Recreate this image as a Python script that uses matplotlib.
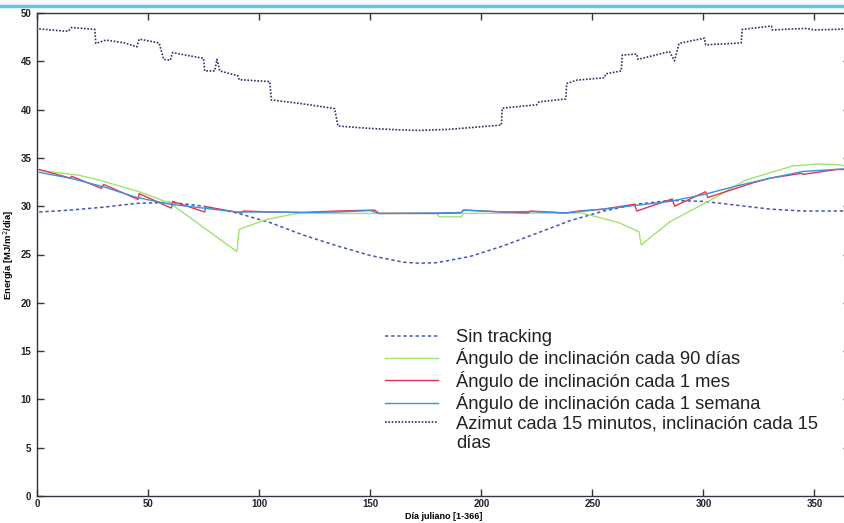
import numpy as np
import matplotlib.pyplot as plt
from matplotlib.lines import Line2D

plt.rcParams['font.family'] = ['Liberation Sans', 'DejaVu Sans']

# Azimut cada 15 minutos, inclinación cada 15 días (step curve)
az_dias = [1, 14, 15.5, 26, 26.5, 31, 39.5, 42, 45, 46, 55, 57, 60, 61, 75, 75.5, 80, 81,
           82.3, 90.5, 91, 104.8, 105.5, 118, 134, 135.5, 150, 163, 172, 185, 196, 209, 209.5,
           225, 226, 238, 238.5, 243, 255.5, 256, 263, 263.5, 270, 270.5, 284.7, 287, 289,
           300.5, 301, 317, 317.5, 330.6, 331, 346, 350, 366]
az_val = [48.35, 48.1, 48.5, 48.3, 46.85, 47.2, 46.9, 46.7, 46.5, 47.3, 46.9, 45.2, 45.1, 45.9,
          45.3, 44.0, 44.0, 45.2, 44.0, 43.5, 43.1, 42.9, 41.0, 40.65, 40.1, 38.3, 38.05, 37.9,
          37.85, 37.95, 38.15, 38.4, 40.15, 40.5, 40.8, 41.1, 42.7, 43.05, 43.3, 43.7, 44.0,
          45.65, 45.75, 45.2, 46.0, 45.05, 46.85, 47.4, 46.7, 46.9, 48.3, 48.65, 48.25, 48.4,
          48.25, 48.35]

# Sin tracking
sin_dias = [1, 15, 30, 45, 60, 75, 90, 105, 120, 135, 150, 165, 172, 180, 195, 210, 225, 240,
            255, 270, 285, 300, 315, 330, 345, 366]
sin_val = [29.4, 29.6, 29.9, 30.3, 30.4, 30.0, 29.3, 28.3, 27.0, 25.9, 24.9, 24.2, 24.1, 24.15,
           24.8, 25.9, 27.2, 28.5, 29.5, 30.2, 30.6, 30.5, 30.1, 29.7, 29.5, 29.5]

# Ángulo de inclinación cada 90 días
d90_dias = [1, 19, 28, 46, 60, 75, 90, 91, 103, 118, 130, 180, 181, 191, 192, 245, 252, 262,
            271, 272, 285, 303, 319, 340, 351, 361, 366]
d90_val = [33.7, 33.2, 32.7, 31.5, 30.3, 27.8, 25.3, 27.6, 28.6, 29.3, 29.25, 29.25, 28.9,
           28.9, 29.25, 29.3, 28.9, 28.3, 27.35, 26.0, 28.4, 30.6, 32.7, 34.15, 34.37, 34.3, 34.0]

# Ángulo de inclinación cada 1 mes
mes_dias = [1, 15, 15.5, 29, 30, 45.5, 46, 60.5, 61, 75.5, 76, 92, 93, 105, 120, 135, 152, 154,
            180, 191, 192, 210, 221, 222, 238, 244, 255, 269, 270, 286, 287, 301, 302, 322, 330,
            344, 345, 360, 366]
mes_val = [33.8, 32.9, 33.1, 31.85, 32.25, 30.7, 31.3, 29.8, 30.5, 29.4, 29.95, 29.3, 29.5,
           29.4, 29.35, 29.5, 29.6, 29.25, 29.25, 29.3, 29.6, 29.4, 29.3, 29.5, 29.3, 29.5, 29.7,
           30.2, 29.5, 30.75, 30.0, 31.5, 30.9, 32.4, 32.9, 33.4, 33.3, 33.8, 33.8]

# Ángulo de inclinación cada 1 semana
sem_dias = [1, 15, 30, 45, 60, 75, 90, 105, 120, 135, 150, 154, 180, 191, 192, 210, 222, 238,
            244, 255, 270, 285, 300, 315, 330, 345, 366]
sem_val = [33.5, 32.9, 32.0, 30.9, 30.2, 29.8, 29.4, 29.4, 29.35, 29.4, 29.55, 29.25, 29.3,
           29.35, 29.6, 29.4, 29.45, 29.3, 29.45, 29.7, 30.1, 30.5, 31.2, 32.1, 32.9, 33.6, 33.9]

fig = plt.figure(figsize=(8.45, 5.23), dpi=100)
ax = fig.add_axes([37 / 845, 27 / 523, 813 / 845, 483 / 523])

ax.plot(sin_dias, sin_val, color='#4656b4', lw=1.1, ls=(0, (2.2, 1.8)), label='Sin tracking')
ax.plot(d90_dias, d90_val, color='#9fe46e', lw=1.0,
        label='Ángulo de inclinación cada 90 días')
ax.plot(mes_dias, mes_val, color='#e8334d', lw=1.0,
        label='Ángulo de inclinación cada 1 mes')
ax.plot(sem_dias, sem_val, color='#3a92e2', lw=1.0,
        label='Ángulo de inclinación cada 1 semana')
ax.plot(az_dias, az_val, color='#2f2f6c', lw=1.2, ls=(0, (1, 1)),
        label='Azimut cada 15 minutos, inclinación cada 15')
# continuation line of the last legend label
ax.plot([], [], ls='none', label='días')

ax.set_xlim(0, 366)
ax.set_ylim(0, 50)
ax.set_xticks(np.arange(0, 351, 50))
ax.set_yticks(np.arange(0, 51, 5))

for s in ax.spines.values():
    s.set_color('#333344')
    s.set_linewidth(1.0)
ax.tick_params(direction='in', length=5, width=1, colors='#333344',
               top=True, right=True, labelsize=7)
ax.tick_params(axis='y', pad=4)
ax.tick_params(axis='x', pad=2)
for t in ax.get_xticklabels() + ax.get_yticklabels():
    t.set_fontweight('bold')
    t.set_color('#222222')

ax.set_xlabel('Día juliano [1-366]', fontsize=6.5, fontweight='bold', labelpad=2)
ax.set_ylabel('Energía [MJ/m$^2$/día]', fontsize=6.8, fontweight='bold', labelpad=3)

leg = ax.legend(loc='upper left', bbox_to_anchor=(385 / 845, 1 - 329 / 523),
                bbox_transform=fig.transFigure, frameon=False, fontsize=13.2,
                handlelength=2.9, handletextpad=1.0, labelspacing=0.13,
                borderpad=0, borderaxespad=0)
for t in leg.get_texts():
    t.set_color('#222222')

# header rule along the top of the page
fig.add_artist(Line2D([0, 1], [1 - 6 / 523, 1 - 6 / 523], transform=fig.transFigure,
                      color='#5cc6e4', lw=2.5))

fig.savefig('out.png', dpi=100)
